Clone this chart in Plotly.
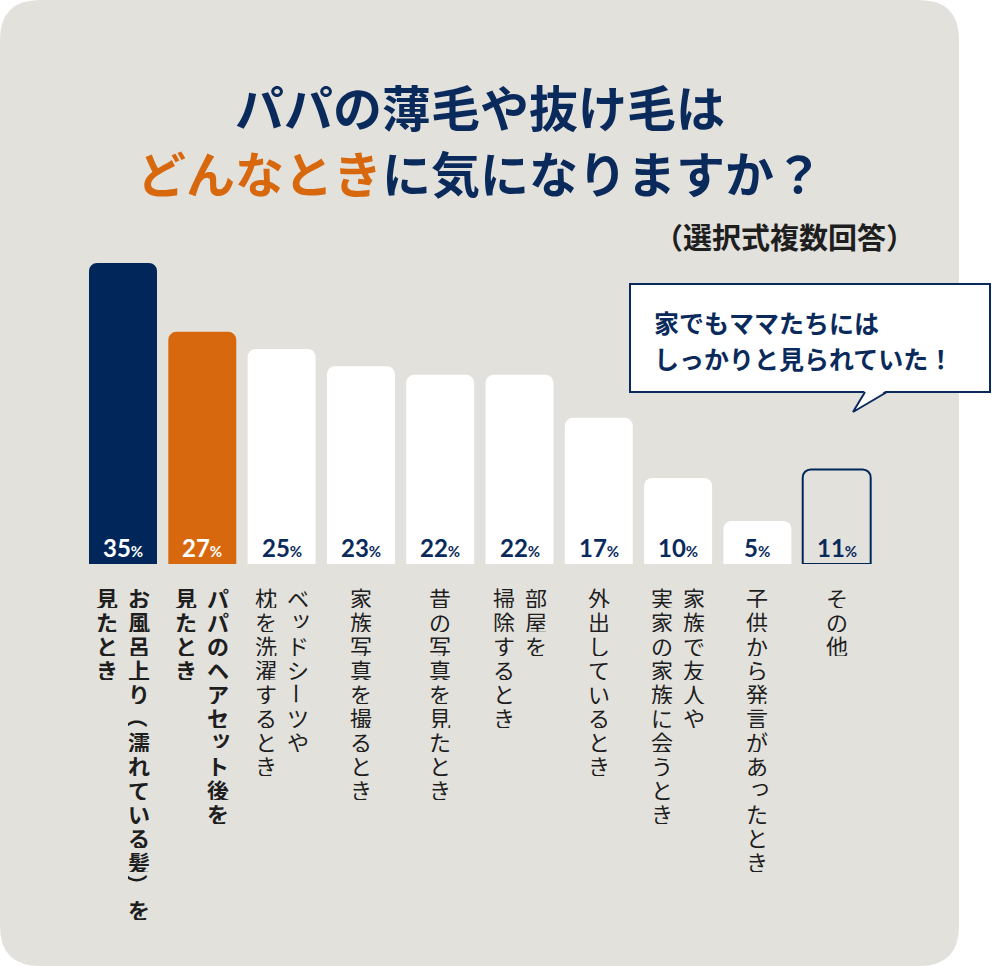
import plotly.graph_objects as go

# ---------------- data ----------------
categories = [
    "お風呂上り（濡れている髪）を\n見たとき",
    "パパのヘアセット後を\n見たとき",
    "ベッドシーツや\n枕を洗濯するとき",
    "家族写真を撮るとき",
    "昔の写真を見たとき",
    "部屋を\n掃除するとき",
    "外出しているとき",
    "家族で友人や\n実家の家族に会うとき",
    "子供から発言があったとき",
    "その他",
]
values = [35, 27, 25, 23, 22, 22, 17, 10, 5, 11]
bar_kind = ["navy", "orange", "white", "white", "white", "white", "white", "white", "white", "outline"]
bold_label = [True, True, False, False, False, False, False, False, False, False]

title_line1 = "パパの薄毛や抜け毛は"
title_line2_accent = "どんなとき"
title_line2_rest = "に気になりますか？"
subtitle = "（選択式複数回答）"
bubble_lines = ["家でもママたちには", "しっかりと見られていた！"]

# ---------------- style ----------------
W, H = 992, 966
NAVY = "#00265a"
ORANGE = "#d8680e"
PANEL = "#e2e1dc"
TEXT_NAVY = "#0b2a5c"
LABEL = "#1e1e1e"
JP = "Noto Sans CJK JP"

fill_map = {"navy": NAVY, "orange": ORANGE, "white": "#ffffff", "outline": "rgba(0,0,0,0)"}
num_color_map = {"navy": "#ffffff", "orange": "#ffffff", "white": TEXT_NAVY, "outline": TEXT_NAVY}


def P(x, y):
    return f"{x / W:.5f},{1 - y / H:.5f}"


fig = go.Figure()

fig.add_trace(go.Bar(
    x=list(range(len(values))),
    y=values,
    width=0.857,
    marker=dict(
        color=[fill_map[k] for k in bar_kind],
        line=dict(color=[NAVY if k == "outline" else "rgba(0,0,0,0)" for k in bar_kind],
                  width=[2 if k == "outline" else 0 for k in bar_kind]),
        cornerradius=8,
    ),
    hoverinfo="skip",
))

annotations = []

# percentage labels at bottom of bars
for i, (v, k) in enumerate(zip(values, bar_kind)):
    annotations.append(dict(
        x=i, y=0, xref="x", yref="y", yanchor="middle", xanchor="center",
        yshift=17, showarrow=False,
        text=f"<b>{v}<span style='font-size:15px'>%</span></b>",
        font=dict(family="Lato, Open Sans, sans-serif", size=24, color=num_color_map[k], weight=900),
    ))

# vertical (tategaki) category labels
rotate_chars = {"（", "）", "ー"}
small_kana = set("ッっャュョゃゅょァィゥェォぁぃぅぇぉ")
for i, cat in enumerate(categories):
    cols = cat.split("\n")
    offsets = [0] if len(cols) == 1 else [16, -16]
    for col, off in zip(cols, offsets):
        for k, ch in enumerate(col):
            dx, dy = 0, 0
            if ch in small_kana:
                dx, dy = 3, 4
            annotations.append(dict(
                x=i, y=0, xref="x", yref="y", xanchor="center", yanchor="middle",
                xshift=off + dx, yshift=-(33 + 24 * k) + dy, showarrow=False,
                textangle=90 if ch in rotate_chars else 0,
                text=f"<b>{ch}</b>" if bold_label[i] else ch,
                font=dict(family=JP, size=22, color=LABEL),
                height=22, width=24, borderpad=0,
            ))

# title
annotations.append(dict(
    x=480 / W, y=1 - 105 / H, xref="paper", yref="paper", xanchor="center", yanchor="middle",
    showarrow=False, text=f"<b>{title_line1}</b>",
    font=dict(family=JP, size=49, color=TEXT_NAVY),
))
annotations.append(dict(
    x=480 / W, y=1 - 172 / H, xref="paper", yref="paper", xanchor="center", yanchor="middle",
    showarrow=False,
    text=f"<b><span style='color:{ORANGE}'>{title_line2_accent}</span>{title_line2_rest}</b>",
    font=dict(family=JP, size=49, color=TEXT_NAVY),
))
annotations.append(dict(
    x=917 / W, y=1 - 236 / H, xref="paper", yref="paper", xanchor="right", yanchor="middle",
    showarrow=False, text=f"<b>{subtitle}</b>",
    font=dict(family=JP, size=29, color=LABEL),
))

# bubble text
for j, line in enumerate(bubble_lines):
    annotations.append(dict(
        x=652 / W, y=1 - (322 + 36 * j) / H, xref="paper", yref="paper", xanchor="left", yanchor="middle",
        showarrow=False, text=f"<b>{line}</b>",
        font=dict(family=JP, size=25, color=TEXT_NAVY),
    ))

# shapes: panel, bubble
r = 40
x0, x1, y0, y1 = 0, 959, 0, 966
panel_path = (
    f"M {P(x0 + r, y0)} L {P(x1 - r, y0)} Q {P(x1, y0)} {P(x1, y0 + r)} "
    f"L {P(x1, y1 - r)} Q {P(x1, y1)} {P(x1 - r, y1)} "
    f"L {P(x0 + r, y1)} Q {P(x0, y1)} {P(x0, y1 - r)} "
    f"L {P(x0, y0 + r)} Q {P(x0, y0)} {P(x0 + r, y0)} Z"
)
shapes = [
    dict(type="path", xref="paper", yref="paper", path=panel_path,
         fillcolor=PANEL, line=dict(width=0), layer="below"),
    dict(type="rect", xref="paper", yref="paper",
         x0=630 / W, x1=990 / W, y0=1 - 392 / H, y1=1 - 284 / H,
         fillcolor="#ffffff", line=dict(color=TEXT_NAVY, width=2), layer="above"),
    dict(type="path", xref="paper", yref="paper",
         path=f"M {P(865, 390)} L {P(853, 412)} L {P(887, 390)} Z",
         fillcolor="#ffffff", line=dict(width=0), layer="above"),
    dict(type="path", xref="paper", yref="paper",
         path=f"M {P(865, 392)} L {P(853, 412)} L {P(887, 392)}",
         line=dict(color=TEXT_NAVY, width=2), layer="above"),
]

fig.update_layout(
    width=W, height=H,
    margin=dict(l=0, r=0, t=0, b=0),
    paper_bgcolor="#ffffff",
    plot_bgcolor="rgba(0,0,0,0)",
    showlegend=False,
    bargap=0,
    xaxis=dict(domain=[83.35 / W, (83.35 + 793) / W], range=[-0.5, 9.5],
               showgrid=False, zeroline=False, showticklabels=False, ticks="", fixedrange=True),
    yaxis=dict(domain=[(H - 564) / H, (H - 220) / H], range=[0, 40],
               showgrid=False, zeroline=False, showticklabels=False, ticks="", fixedrange=True),
    annotations=annotations,
    shapes=shapes,
)

fig.write_html("out.html", config={"displayModeBar": False, "staticPlot": True},
               post_script="document.body.style.margin='0px';document.body.style.overflow='hidden';")
